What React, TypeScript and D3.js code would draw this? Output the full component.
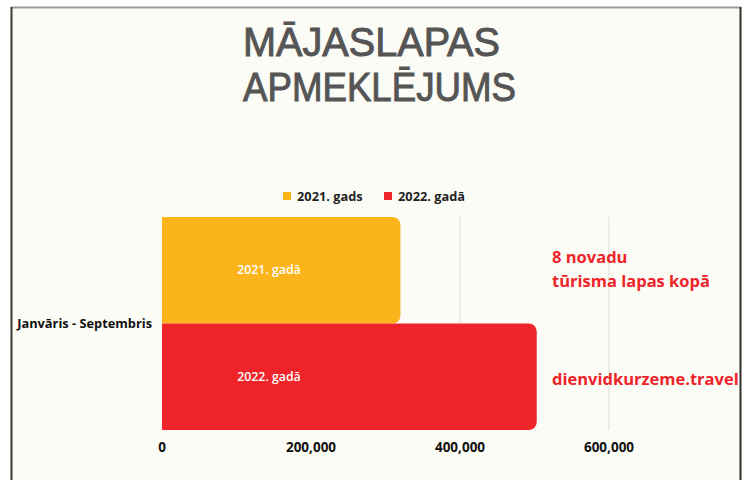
import React from "react";
import * as d3 from "d3";

const categories = ["Janvāris - Septembris"];
const seriesNames = ["2021. gads", "2022. gadā"];
const barLabels = ["2021. gadā", "2022. gadā"];
const values2021 = [320000];
const values2022 = [503000];
const xTicks = [0, 200000, 400000, 600000];
const gridTicks = [400000, 600000];
const colors = ["#FBB51B", "#EE2429"];
const titleLines = ["MĀJASLAPAS", "APMEKLĒJUMS"];
const annotations = ["8 novadu", "tūrisma lapas kopā", "dienvidkurzeme.travel"];

const W = 750;
const H = 480;
const FONT = "'Open Sans', 'Noto Sans', sans-serif";

function roundedRightBar(x0: number, y0: number, x1: number, y1: number, r: number) {
  const p = d3.path();
  p.moveTo(x0, y0);
  p.lineTo(x1 - r, y0);
  p.arcTo(x1, y0, x1, y0 + r, r);
  p.lineTo(x1, y1 - r);
  p.arcTo(x1, y1, x1 - r, y1, r);
  p.lineTo(x0, y1);
  p.closePath();
  return p.toString();
}

export default function App() {
  const x = d3.scaleLinear().domain([0, 600000]).range([162, 609]);
  const y = d3.scaleBand().domain(categories).range([217, 430]).padding(0);
  const ySub = d3.scaleBand().domain(seriesNames).range([0, y.bandwidth()]).padding(0);
  const fmt = d3.format(",");
  const seriesValues = [values2021, values2022];
  const titleWidths = [257, 273];

  return (
    <svg width={W} height={H} style={{ position: "absolute", left: 0, top: 0, background: "#ffffff" }}>
      <rect x={11} y={7} width={730} height={480} fill="#FCFCF7" />
      <line x1={11} x2={741} y1={7.5} y2={7.5} stroke="#9a9a9a" strokeWidth={2} />
      <line x1={11.5} x2={11.5} y1={7} y2={H} stroke="#3a3a3a" strokeWidth={2} />
      <line x1={740.5} x2={740.5} y1={7} y2={H} stroke="#2e2e2e" strokeWidth={2} />

      {titleLines.map((t, i) => (
        <text key={t} x={243} y={56 + i * 45} fontFamily="'Liberation Sans', Arial, sans-serif"
          fontSize={41} fill="#555555" stroke="#555555" strokeWidth={1}
          textLength={titleWidths[i]} lengthAdjust="spacingAndGlyphs">{t}</text>
      ))}

      {/* legend */}
      {seriesNames.map((s, i) => {
        const lx = [283, 384][i];
        return (
          <g key={s}>
            <rect x={lx} y={192} width={8} height={8} fill={colors[i]} />
            <text x={lx + 14} y={201} fontFamily={FONT} fontWeight={700} fontSize={12.8} fill="#222">{s}</text>
          </g>
        );
      })}

      {/* gridlines */}
      {gridTicks.map((t) => (
        <line key={t} x1={x(t)} x2={x(t)} y1={217} y2={430} stroke="#dddddd" strokeWidth={1} />
      ))}

      {/* bars */}
      {categories.map((c, ci) => (
        <g key={c}>
          {seriesNames.map((s, si) => {
            const y0 = (y(c) as number) + (ySub(s) as number);
            const y1 = y0 + ySub.bandwidth();
            const v = seriesValues[si][ci];
            return (
              <g key={s}>
                <path d={roundedRightBar(x(0), y0, x(v), y1, 8)} fill={colors[si]} />
                <text x={269} y={(y0 + y1) / 2 + 4} textAnchor="middle" fontFamily={FONT} fontWeight={600} fontSize={12.3}
                  fill="#ffffff">{barLabels[si]}</text>
              </g>
            );
          })}
          <text x={152} y={(y(c) as number) + y.bandwidth() / 2 + 4} textAnchor="end" fontFamily={FONT}
            fontWeight={700} fontSize={12.8} fill="#111">{c}</text>
        </g>
      ))}

      {/* x tick labels */}
      {xTicks.map((t) => (
        <text key={t} x={x(t)} y={452} textAnchor="middle" fontFamily={FONT} fontWeight={700} fontSize={13.5}
          fill="#111">{fmt(t)}</text>
      ))}

      {/* annotations */}
      <text x={552} y={263} fontFamily={FONT} fontWeight={700} fontSize={16.5} fill="#EE2429">{annotations[0]}</text>
      <text x={552} y={287} fontFamily={FONT} fontWeight={700} fontSize={16.5} fill="#EE2429">{annotations[1]}</text>
      <text x={552} y={385} fontFamily={FONT} fontWeight={700} fontSize={16.5} fill="#EE2429">{annotations[2]}</text>
    </svg>
  );
}
